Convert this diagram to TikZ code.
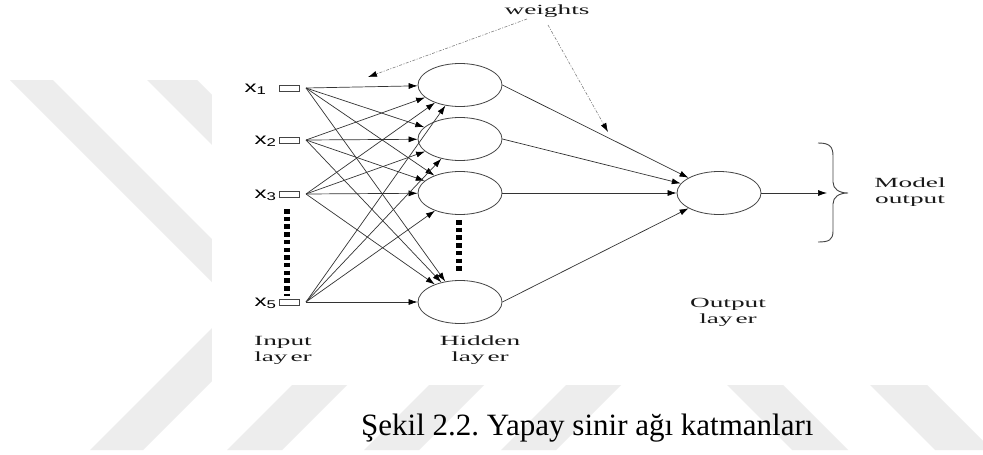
\documentclass[tikz,border=0pt]{standalone}
\usepackage{fontspec}
\setmainfont{Liberation Serif}
\newfontfamily\sansx{Liberation Sans}
\usetikzlibrary{arrows.meta,shapes.geometric}
\definecolor{wm}{HTML}{EDEDED}
\definecolor{edge}{HTML}{333333}
\definecolor{ring}{HTML}{444444}
\frenchspacing
\tikzset{
  lbl/.style={font=\fontsize{14}{16}\selectfont, align=center, inner sep=0pt, xscale=1.95, transform shape, text=black!90},
  xlbl/.style={font=\fontsize{16}{18}\selectfont\sansx, inner sep=0pt, anchor=base east, xscale=1.5, transform shape},
  inbox/.style={draw=ring, line width=0.7pt, rectangle, minimum width=20pt, minimum height=6pt, inner sep=0pt},
  neuron/.style={draw=ring, line width=0.8pt, ellipse, minimum width=84pt, minimum height=43pt, inner sep=0pt},
  conn/.style={draw=edge, line width=0.7pt, -{Latex[length=9pt,width=6pt,color=black]}},
  wconn/.style={draw=gray, line width=0.6pt, dash pattern=on 3pt off 1.5pt on 1pt off 1.5pt, -{Latex[length=9pt,width=6pt,color=black]}},
  dotsq/.style={line width=6pt, dash pattern=on 4.5pt off 3.2pt, black}
}
\begin{document}
\begin{tikzpicture}[x=1pt,y=-1pt]
\useasboundingbox (0,0) rectangle (983,455);
\fill[white] (0,0) rectangle (983,455);
% watermark stripes
\fill[wm] (10,80) -- (53,80) -- (283,310) -- (240,310) -- cycle;
\fill[wm] (147,80) -- (197,80) -- (297,180) -- (247,180) -- cycle;
\fill[wm] (90,450) -- (143,450) -- (295,298) -- (242,298) -- cycle;
\fill[wm] (227,450) -- (282,450) -- (434,298) -- (379,298) -- cycle;
\fill[wm] (364,450) -- (419,450) -- (571,298) -- (516,298) -- cycle;
\fill[wm] (501,450) -- (556,450) -- (708,298) -- (653,298) -- cycle;
\fill[wm] (642,300) -- (698,300) -- (848,450) -- (792,450) -- cycle;
\fill[wm] (785,300) -- (842,300) -- (992,450) -- (935,450) -- cycle;
% figure area
\fill[white] (212,0) rectangle (983,385);

% input boxes
\node[inbox] (b1) at (289,88) {};
\node[inbox] (b2) at (289,140) {};
\node[inbox] (b3) at (289,194) {};
\node[inbox] (b4) at (289,302) {};
\coordinate (s1) at (306,88);
\coordinate (s2) at (306,140);
\coordinate (s3) at (306,194);
\coordinate (s4) at (306,302);
\node[xlbl] (l1) at (267,92) {x\textsubscript{1}};
\node[xlbl] (l2) at (277,144) {x\textsubscript{2}};
\node[xlbl] (l3) at (277,198) {x\textsubscript{3}};
\node[xlbl] (l4) at (277,306) {x\textsubscript{5}};

% hidden nodes
\node[neuron] (h1) at (460,85) {};
\node[neuron] (h2) at (460,139) {};
\node[neuron] (h3) at (460,193) {};
\node[neuron] (h4) at (460,302) {};
% output node
\node[neuron] (o) at (719,193) {};
\coordinate (bt) at (827,193);

% dotted continuation marks
\coordinate (d1a) at (287,209);
\coordinate (d1b) at (287,296);
\coordinate (d2a) at (459,220);
\coordinate (d2b) at (459,273);
\draw[dotsq] (d1a) -- (d1b);
\draw[dotsq] (d2a) -- (d2b);

% connections input -> hidden
\foreach \i in {1,2,3,4}{
  \foreach \j in {1,2,3,4}{
    \draw[conn] (s\i) -- (h\j);
  }
}
% hidden -> output
\foreach \j in {1,2,3,4}{
  \draw[conn] (h\j.east) -- (o);
}
\draw[conn] (o) -- (bt);

% brace
\draw[ring, line width=0.9pt] (818,143) .. controls (829,143) and (833,146) .. (833,156)
  -- (833,182) .. controls (833,189) and (839,193) .. (848,193)
  .. controls (839,193) and (833,197) .. (833,204)
  -- (833,231) .. controls (833,240) and (829,242) .. (818,242);

% labels
\node[lbl] (w) at (547,11) {weights};
\coordinate (w1) at (527,19);
\coordinate (w2) at (548,25);
\coordinate (wa) at (368,77);
\coordinate (wb) at (608,132);
\draw[wconn] (w1) -- (wa);
\draw[wconn] (w2) -- (wb);

\node[lbl] (il) at (283,350) {Input\\lay\kern1.5pt er};
\node[lbl] (hl) at (480,350) {Hidden\\lay\kern1.5pt er};
\node[lbl] (ol) at (728,312) {Output\\lay\kern1.5pt er};
\node[lbl] (mo) at (910,192) {Model\\output};

% caption
\node[anchor=base west, inner sep=0pt, font=\fontsize{31}{36}\selectfont] (cap) at (361,435) {Şekil 2.2. Yapay sinir ağı katmanları};
\end{tikzpicture}
\end{document}
